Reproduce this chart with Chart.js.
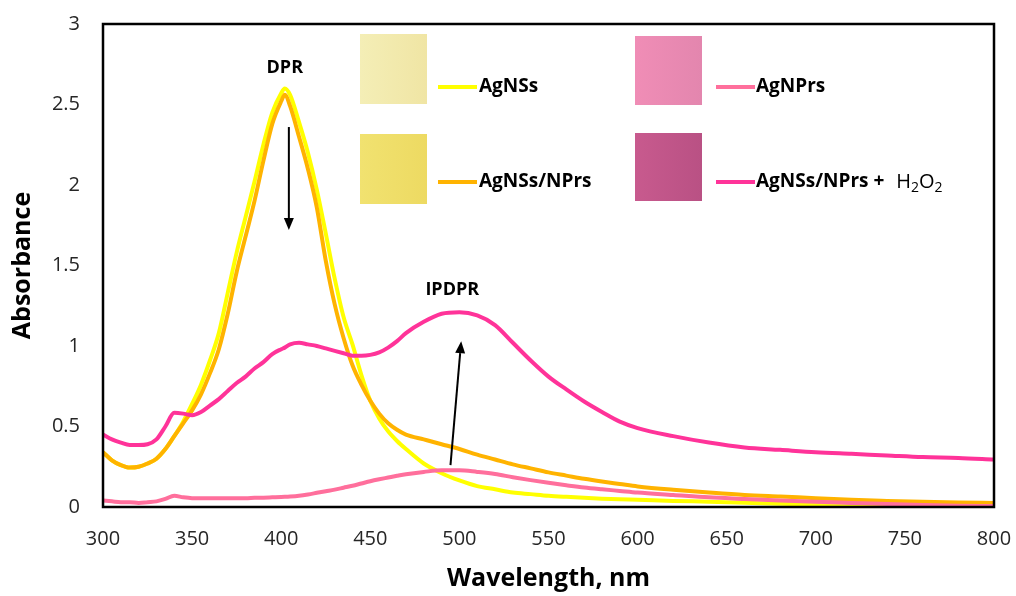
<!DOCTYPE html>
<html><head><meta charset="utf-8">
<script src="https://cdn.jsdelivr.net/npm/chart.js@4.4.1/dist/chart.umd.min.js"></script>
<style>html,body{margin:0;padding:0;background:#fff;overflow:hidden}</style>
</head><body>
<canvas id="c" width="1016" height="596"></canvas>
<script>
const wavelengths = [300,305,310,315,320,325,330,335,340,345,
  350,355,360,365,370,375,380,385,390,395,
  400,402,405,410,415,420,425,430,435,440,
  445,450,455,460,465,470,480,490,500,510,
  520,530,540,550,560,570,580,590,600,620,
  640,660,680,700,720,740,760,780,800];

const agNSs = [0.34,0.29,0.26,0.245,0.25,0.27,0.30,0.36,0.44,0.53,
  0.64,0.76,0.91,1.08,1.33,1.58,1.80,2.02,2.25,2.45,
  2.57,2.60,2.56,2.39,2.20,1.97,1.70,1.42,1.18,1.01,
  0.82,0.66,0.55,0.47,0.41,0.36,0.27,0.21,0.165,0.13,
  0.11,0.09,0.08,0.07,0.063,0.057,0.052,0.048,0.045,0.038,
  0.033,0.027,0.02,0.015,0.01,0.006,0.003,0.001,0.0];

const agNSsNPrs = [0.34,0.29,0.26,0.245,0.25,0.27,0.30,0.36,0.44,0.52,
  0.60,0.70,0.83,0.98,1.20,1.46,1.68,1.90,2.15,2.38,
  2.52,2.56,2.49,2.30,2.10,1.86,1.53,1.26,1.05,0.88,
  0.76,0.66,0.58,0.52,0.48,0.45,0.42,0.39,0.36,0.325,
  0.295,0.265,0.24,0.215,0.195,0.175,0.158,0.143,0.128,0.107,
  0.09,0.075,0.065,0.055,0.045,0.038,0.032,0.028,0.025];

const agNPrs = [0.04,0.035,0.03,0.03,0.025,0.03,0.035,0.05,0.07,0.06,
  0.055,0.055,0.055,0.055,0.055,0.055,0.055,0.057,0.058,0.06,
  0.062,0.063,0.065,0.07,0.078,0.088,0.098,0.108,0.12,0.132,
  0.146,0.16,0.172,0.183,0.194,0.204,0.218,0.228,0.228,0.218,
  0.205,0.185,0.167,0.15,0.135,0.121,0.11,0.10,0.09,0.075,
  0.06,0.05,0.04,0.032,0.025,0.018,0.012,0.008,0.006];

const agNSsNPrsH2O2 = [0.45,0.42,0.40,0.385,0.385,0.39,0.42,0.50,0.585,0.58,
  0.57,0.59,0.63,0.67,0.72,0.77,0.81,0.86,0.90,0.95,
  0.98,0.99,1.01,1.02,1.01,1.00,0.985,0.97,0.955,0.94,
  0.94,0.945,0.96,0.99,1.03,1.08,1.15,1.20,1.21,1.19,
  1.13,1.02,0.91,0.81,0.73,0.655,0.59,0.53,0.49,0.44,
  0.40,0.37,0.355,0.34,0.33,0.32,0.31,0.305,0.295];

const xTicks = [300,350,400,450,500,550,600,650,700,750,800];
const yTicks = [0,0.5,1,1.5,2,2.5,3];

const seriesLabels = ['AgNSs','AgNSs/NPrs','AgNPrs','AgNSs/NPrs +'];
const seriesColors = ['#FFFF00','#FFB300','#FF6F9C','#FF3399'];
const swatchColors = [['#F4EEB6','#F0E5A4'],['#F1E270','#EDDA62'],['#F08DB6','#E386AE'],['#C85A8E','#B95184']];

const annotationTexts = ['DPR','IPDPR'];
const annotationTextAt = [[402,2.73],[496,1.35]];
const arrowFrom = [[404.3,2.36],[495,0.26]];
const arrowTo = [[404.3,1.72],[501,1.03]];

const FAM = "'Open Sans','Liberation Sans',sans-serif";

function mk(label, data, color, order){
  return {label, data: wavelengths.map((w,i)=>({x:w,y:data[i]})),
    borderColor: color, backgroundColor: color, borderWidth: 4,
    pointRadius: 0, cubicInterpolationMode:'monotone', fill:false, order};
}

function arrow(ctx,x1,y1,x2,y2){
  const a=Math.atan2(y2-y1,x2-x1), hl=12, hw=5;
  const bx=x2-hl*Math.cos(a), by=y2-hl*Math.sin(a);
  ctx.beginPath(); ctx.moveTo(x1,y1); ctx.lineTo(bx,by); ctx.stroke();
  ctx.beginPath(); ctx.moveTo(x2,y2);
  ctx.lineTo(bx+hw*Math.sin(a), by-hw*Math.cos(a));
  ctx.lineTo(bx-hw*Math.sin(a), by+hw*Math.cos(a));
  ctx.closePath(); ctx.fill();
}

const overlay = {
  id:'overlay',
  afterDatasetsDraw(chart){
    const {ctx, chartArea:a, scales:{x,y}} = chart;
    ctx.save();
    ctx.strokeStyle='#000'; ctx.lineWidth=2.5;
    ctx.strokeRect(a.left, a.top, a.right-a.left, a.bottom-a.top);
    ctx.fillStyle='#000'; ctx.strokeStyle='#000'; ctx.lineWidth=2;
    ctx.font="bold 18px "+FAM; ctx.textAlign='center'; ctx.textBaseline='middle';
    annotationTexts.forEach((t,i)=>{
      ctx.fillText(t, x.getPixelForValue(annotationTextAt[i][0]), y.getPixelForValue(annotationTextAt[i][1]));
      arrow(ctx, x.getPixelForValue(arrowFrom[i][0]), y.getPixelForValue(arrowFrom[i][1]),
                 x.getPixelForValue(arrowTo[i][0]), y.getPixelForValue(arrowTo[i][1]));
    });
    const items = [
      {sx:360, sy:34, sw:67, sh:70, lx:438, ly:87, tx:479},
      {sx:360, sy:134, sw:67, sh:70, lx:438, ly:182, tx:479},
      {sx:635, sy:36, sw:67, sh:69, lx:716, ly:87, tx:756},
      {sx:635, sy:133, sw:67, sh:68, lx:716, ly:182, tx:756}
    ];
    items.forEach((it,i)=>{
      const g=ctx.createLinearGradient(it.sx,0,it.sx+it.sw,0);
      g.addColorStop(0,swatchColors[i][0]); g.addColorStop(1,swatchColors[i][1]);
      ctx.fillStyle=g; ctx.fillRect(it.sx,it.sy,it.sw,it.sh);
      ctx.strokeStyle=seriesColors[i]; ctx.lineWidth=4;
      ctx.beginPath(); ctx.moveTo(it.lx,it.ly); ctx.lineTo(it.lx+39,it.ly); ctx.stroke();
      ctx.fillStyle='#000'; ctx.textAlign='left'; ctx.textBaseline='middle';
      ctx.font="bold 19px "+FAM;
      ctx.fillText(seriesLabels[i], it.tx, it.ly);
      if(i===3){
        let px = it.tx + ctx.measureText(seriesLabels[i]).width + 12;
        const parts=[['H',0],['2',1],['O',0],['2',1]];
        parts.forEach(([s,sub])=>{
          ctx.font=(sub?"14px ":"20px ")+FAM;
          ctx.fillText(s, px, it.ly+(sub?6:0));
          px+=ctx.measureText(s).width;
        });
      }
    });
    ctx.restore();
  }
};

new Chart(document.getElementById('c'), {
  type:'line',
  data:{datasets:[
    mk('AgNSs', agNSs, seriesColors[0], 4),
    mk('AgNSs/NPrs', agNSsNPrs, seriesColors[1], 3),
    mk('AgNPrs', agNPrs, seriesColors[2], 2),
    mk('AgNSs/NPrs + H2O2', agNSsNPrsH2O2, seriesColors[3], 1)
  ]},
  options:{
    responsive:false, animation:false, devicePixelRatio:1,
    layout:{padding:{top:24,right:22,left:0,bottom:0}},
    plugins:{legend:{display:false}, tooltip:{enabled:false}},
    scales:{
      x:{type:'linear', min:300, max:800,
        afterBuildTicks:s=>{s.ticks=xTicks.map(v=>({value:v}));},
        grid:{display:false, drawTicks:false}, border:{display:false},
        ticks:{padding:20, color:'#262626', font:{family:FAM,size:20}, maxRotation:0, autoSkip:false,
          callback:v=>String(v)},
        title:{display:true, text:'Wavelength, nm', color:'#000', font:{family:FAM,size:25,weight:'bold'}, padding:2},
        afterFit:s=>{s.height=89; s.paddingLeft=0; s.paddingRight=0;}
      },
      y:{type:'linear', min:0, max:3,
        afterBuildTicks:s=>{s.ticks=yTicks.map(v=>({value:v}));},
        grid:{display:false, drawTicks:false}, border:{display:false},
        ticks:{padding:23, color:'#262626', font:{family:FAM,size:20}, autoSkip:false,
          callback:v=>String(v)},
        title:{display:true, text:'Absorbance', color:'#000', font:{family:FAM,size:25,weight:'bold'}, padding:8},
        afterFit:s=>{s.width=103; s.paddingTop=0; s.paddingBottom=0;}
      }
    }
  },
  plugins:[overlay]
});
</script>
</body></html>
